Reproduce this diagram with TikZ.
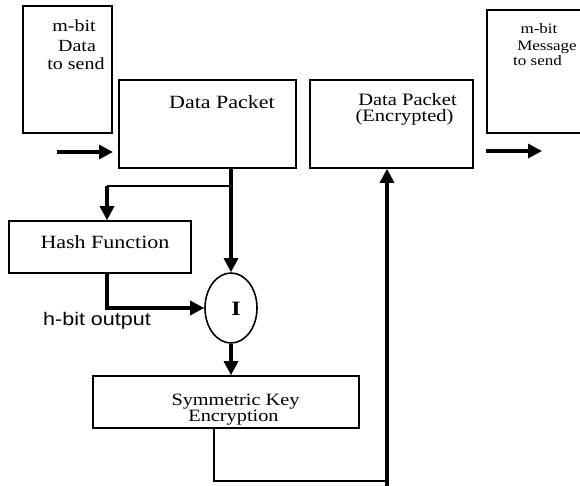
\documentclass[tikz,border=0pt]{standalone}
\usepackage{fontspec}
\setmainfont{Liberation Serif}
\newfontfamily\labelsans{Liberation Sans}
\usetikzlibrary{arrows.meta,shapes.geometric}
% text in this figure is set slightly compressed vertically
\newcommand{\squash}[1]{\scalebox{1}[0.85]{#1}}
\tikzset{
  box/.style={draw, rectangle, line width=1.6pt, inner sep=0pt},
  txt/.style={inner sep=0pt, anchor=base, font=\fontsize{#1}{#1}\selectfont},
  txt/.default=20,
  flow/.style={line width=3.2pt},
  link/.style={line width=1.8pt},
  arr/.style={-{Triangle[width=14pt,length=14pt]}},
}
\begin{document}
\begin{tikzpicture}[x=1pt,y=1pt]
\useasboundingbox (0,0) rectangle (580,-485);
\clip (0,0) rectangle (580,-485);

% boxes
\node[box, minimum width=89pt,  minimum height=127pt] (src)  at (67.5,-69.5) {};
\node[box, minimum width=177pt, minimum height=88pt]  (pkt)  at (207.5,-124) {};
\node[box, minimum width=163pt, minimum height=88pt]  (enc)  at (391.5,-124) {};
\node[box, minimum width=113pt, minimum height=123pt] (dst)  at (543.5,-71.5) {};
\node[box, minimum width=182pt, minimum height=52pt]  (hash) at (100,-247) {};
\node[box, minimum width=266pt, minimum height=52pt]  (sym)  at (226,-402) {};
\node[draw, ellipse, line width=1.6pt, inner sep=0pt,
      minimum width=52pt, minimum height=70pt] (xor) at (231,-308) {};

% labels
\node[txt] (src1) at (74,-31.7) {\squash{m-bit}};
\node[txt] (src2) at (77,-51)   {\squash{Data}};
\node[txt] (src3) at (76,-69.3) {\squash{to send}};
\node[txt=22] (pkt1) at (222,-108.3) {\squash{Data Packet}};
\node[txt=20.5] (enc1) at (407.5,-105.5) {\squash{Data Packet}};
\node[txt=20.5] (enc2) at (404.5,-121.5) {\squash{(Encrypted)}};
\node[txt=17] (dst1) at (539,-33) {\squash{m-bit}};
\node[txt=17] (dst2) at (547,-50) {\squash{Message}};
\node[txt=17] (dst3) at (537.5,-65) {\squash{to send}};
\node[txt=22] (hash1) at (105,-248.3) {\squash{Hash Function}};
\node[txt=20.3] (sym1) at (235.5,-405.2) {\squash{Symmetric Key}};
\node[txt=20.3] (sym2) at (233.5,-421.5) {\squash{Encryption}};
\node[txt=21.5] (hout) at (97,-325.7) {\squash{\labelsans h-bit output}};
\node[txt=24] (xorI) at (236,-315) {\squash{\bfseries I}};

% connector end points
\coordinate (in1)  at (57,-152);
\coordinate (in2)  at (113,-152);
\coordinate (out1) at (486,-151);
\coordinate (out2) at (542,-151);
\coordinate (split) at (232,-186);
\coordinate (hashin) at (107,-186);
\coordinate (hashout) at (107,-273);
\coordinate (symout) at (214,-428);
\coordinate (turn) at (387,-481);
\coordinate (rise) at (387,-486);

% connectors
\draw[flow, arr] (in1) -- (in2);
\draw[flow, arr] (out1) -- (out2);
\draw[flow, arr] (xor.north |- pkt.south) -- (xor.north);
\draw[link] (split) -- (hashin);
\draw[flow, arr] (hashin) -- (hashin |- hash.north);
\draw[flow, arr] (hashout) |- (xor.west);
\draw[flow, arr] (xor.south) -- (xor.south |- sym.north);
\draw[link] (symout) |- (turn);
\draw[flow, arr] (rise) -- (rise |- enc.south);
\end{tikzpicture}
\end{document}
